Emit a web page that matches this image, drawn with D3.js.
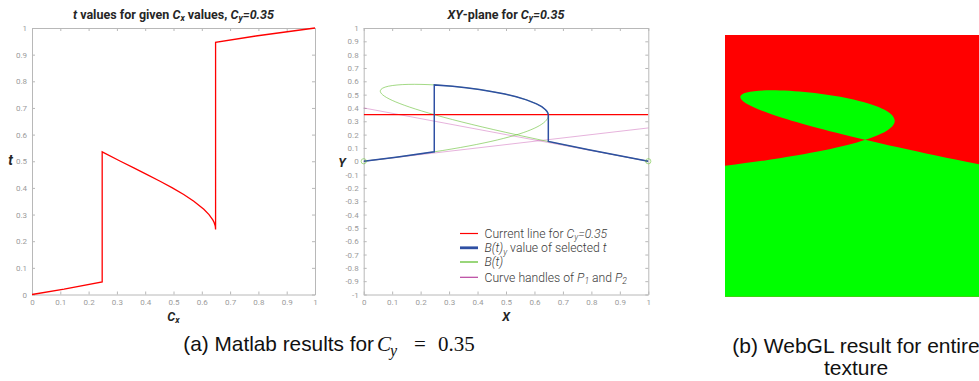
<!DOCTYPE html>
<html><head><meta charset="utf-8">
<script src="https://cdn.jsdelivr.net/npm/d3@7"></script>
<style>body{margin:0;background:#fff;overflow:hidden}svg{display:block}</style>
</head><body><svg id="c" width="979" height="381"></svg>
<script>
// ---------- data ----------
const unitTicks = [0,0.1,0.2,0.3,0.4,0.5,0.6,0.7,0.8,0.9,1];
const unitTickLabels = ["0","0.1","0.2","0.3","0.4","0.5","0.6","0.7","0.8","0.9","1"];
const yTicksXY = [-1,-0.9,-0.8,-0.7,-0.6,-0.5,-0.4,-0.3,-0.2,-0.1,0,0.1,0.2,0.3,0.4,0.5,0.6,0.7,0.8,0.9,1];
const yTickLabelsXY = ["-1","-0.9","-0.8","-0.7","-0.6","-0.5","-0.4","-0.3","-0.2","-0.1","0","0.1","0.2","0.3","0.4","0.5","0.6","0.7","0.8","0.9","1"];

// t values for given Cx (left plot) and the selected B(t)y (right plot, blue)
const cxValues = [0, 0.1135, 0.248, 0.248, 0.3125, 0.3597, 0.4067, 0.4525, 0.496, 0.5361, 0.5718, 0.6072, 0.6255, 0.6389, 0.6435, 0.6467, 0.6478, 0.6487, 0.6487, 0.7909, 1];
const tValues  = [0, 0.02, 0.0474, 0.535, 0.5, 0.475, 0.45, 0.425, 0.4, 0.375, 0.35, 0.32, 0.3, 0.28, 0.27, 0.26, 0.255, 0.2441, 0.946, 0.97, 1];
const byValues = [0, 0.03, 0.0709, 0.5728, 0.5625, 0.5517, 0.5383, 0.5224, 0.504, 0.4834, 0.4607, 0.4308, 0.4095, 0.3871, 0.3755, 0.3636, 0.3576, 0.3443, 0.1491, 0.086, 0];

// Bezier control points P0..P3
const ctrlX = [0, 2, -1.5, 1];
const ctrlY = [0, 0.5, 1, 0];
const cyValue = 0.35;

// ---------- drawing ----------
const svg = d3.select("#c");
const F = "Roboto, 'Noto Sans', sans-serif";
const tickColor = "#9b9b9b";
const frameColor = "#b8b8b8";

function rich(textSel, parts, baseSize) {
  let shift = 0;
  parts.forEach(p => {
    const ts = textSel.append("tspan").text(p.t);
    if (p.i) ts.attr("font-style", "italic");
    if (p.sub) {
      ts.attr("font-size", (baseSize * 0.7) + "px").attr("dy", (baseSize * 0.22 - shift));
      shift = baseSize * 0.22;
    } else if (shift) {
      ts.attr("dy", -shift); shift = 0;
    }
  });
}

function frame(g, x, y, xTicks, xLabels, yTicks, yLabels) {
  const [x0, x1] = x.range(); const [y0, y1] = y.range();
  const mk = (axis, tr) => g.append("g").attr("transform", tr).call(axis)
    .call(s => { s.select(".domain").attr("stroke", frameColor); s.selectAll(".tick line").attr("stroke", frameColor);
      s.selectAll("text").attr("fill", tickColor).attr("font-family", F).attr("font-size", "8px"); });
  mk(d3.axisBottom(x).tickValues(xTicks).tickFormat((d,i)=>xLabels[i]).tickSizeInner(-3).tickSizeOuter(0).tickPadding(5), `translate(0,${y0})`);
  mk(d3.axisTop(x).tickValues(xTicks).tickFormat("").tickSizeInner(-3).tickSizeOuter(0), `translate(0,${y1})`);
  mk(d3.axisLeft(y).tickValues(yTicks).tickFormat((d,i)=>yLabels[i]).tickSizeInner(-3).tickSizeOuter(0).tickPadding(5), `translate(${x0},0)`);
  mk(d3.axisRight(y).tickValues(yTicks).tickFormat("").tickSizeInner(-3).tickSizeOuter(0), `translate(${x1},0)`);
}

// ----- left plot -----
const xL = d3.scaleLinear().domain([0,1]).range([32, 315]);
const yL = d3.scaleLinear().domain([0,1]).range([294.5, 28]);
const gL = svg.append("g");
frame(gL, xL, yL, unitTicks, unitTickLabels, unitTicks, unitTickLabels);
gL.append("path").datum(d3.range(cxValues.length))
  .attr("d", d3.line().x(i => xL(cxValues[i])).y(i => yL(tValues[i])))
  .attr("fill", "none").attr("stroke", "#ff0000").attr("stroke-width", 1.3);
rich(gL.append("text").attr("x", 173.5).attr("y", 18.5).attr("text-anchor", "middle")
  .attr("font-family", F).attr("font-weight", "bold").attr("font-size", "12.5px").attr("fill", "#262626"),
  [{t:"t",i:1},{t:" values for given "},{t:"C",i:1},{t:"x",i:1,sub:1},{t:" values, "},{t:"C",i:1},{t:"y",i:1,sub:1},{t:"=0.35",i:1}], 12.5);
rich(gL.append("text").attr("x", 173.5).attr("y", 320.5).attr("text-anchor", "middle")
  .attr("font-family", F).attr("font-weight", "bold").attr("font-size", "12.5px").attr("fill", "#262626"),
  [{t:"C",i:1},{t:"x",i:1,sub:1}], 12.5);
gL.append("text").attr("x", 10.5).attr("y", 165).attr("text-anchor", "middle")
  .attr("font-family", F).attr("font-weight", "bold").attr("font-style", "italic").attr("font-size", "14px").attr("fill", "#262626").text("t");

// ----- right plot -----
const xR = d3.scaleLinear().domain([0,1]).range([363.7, 648.3]);
const yR = d3.scaleLinear().domain([-1,1]).range([294.5, 28]);
const gR = svg.append("g");
svg.append("defs").append("clipPath").attr("id", "clipR").append("rect")
  .attr("x", xR(0)).attr("y", yR(1)).attr("width", xR(1)-xR(0)).attr("height", yR(-1)-yR(1));
frame(gR, xR, yR, unitTicks, unitTickLabels, yTicksXY, yTickLabelsXY);
const plotR = gR.append("g").attr("clip-path", "url(#clipR)");
// curve handles
[[0,1],[3,2]].forEach(([a,b]) => {
  plotR.append("line").attr("x1", xR(ctrlX[a])).attr("y1", yR(ctrlY[a])).attr("x2", xR(ctrlX[b])).attr("y2", yR(ctrlY[b]))
    .attr("stroke", "#c040a8").attr("stroke-opacity", 0.4).attr("stroke-width", 1);
});
// B(t)
const bp = d3.path();
bp.moveTo(xR(ctrlX[0]), yR(ctrlY[0]));
bp.bezierCurveTo(xR(ctrlX[1]), yR(ctrlY[1]), xR(ctrlX[2]), yR(ctrlY[2]), xR(ctrlX[3]), yR(ctrlY[3]));
plotR.append("path").attr("d", bp.toString()).attr("fill", "none").attr("stroke", "#66c033").attr("stroke-opacity", 0.6).attr("stroke-width", 1);
// current line
plotR.append("line").attr("x1", xR(0)).attr("x2", xR(1)).attr("y1", yR(cyValue)).attr("y2", yR(cyValue))
  .attr("stroke", "#ff0000").attr("stroke-width", 1.3);
// blue selected
plotR.append("path").datum(d3.range(cxValues.length))
  .attr("d", d3.line().x(i => xR(cxValues[i])).y(i => yR(byValues[i])))
  .attr("fill", "none").attr("stroke", "#2e4fa3").attr("stroke-width", 1.5);
// endpoint markers
[0,3].forEach(k => gR.append("circle").attr("cx", xR(ctrlX[k])).attr("cy", yR(ctrlY[k])).attr("r", 2.6)
  .attr("fill", "none").attr("stroke", "#66c033").attr("stroke-opacity", 0.7).attr("stroke-width", 0.8));
// titles
rich(gR.append("text").attr("x", 506).attr("y", 18.5).attr("text-anchor", "middle")
  .attr("font-family", F).attr("font-weight", "bold").attr("font-size", "12.5px").attr("fill", "#262626"),
  [{t:"XY",i:1},{t:"-plane for "},{t:"C",i:1},{t:"y",i:1,sub:1},{t:"=0.35",i:1}], 12.5);
gR.append("text").attr("x", 506).attr("y", 320.5).attr("text-anchor", "middle")
  .attr("font-family", F).attr("font-weight", "bold").attr("font-style", "italic").attr("font-size", "12.5px").attr("fill", "#262626").text("X");
gR.append("text").attr("x", 342).attr("y", 166.5).attr("text-anchor", "middle")
  .attr("font-family", F).attr("font-weight", "bold").attr("font-style", "italic").attr("font-size", "12.5px").attr("fill", "#262626").text("Y");

// legend
const legendColors = ["#ff0000", "#2e4fa3", "#55bb22", "#b8449f"];
const legendWidths = [1.2, 2.8, 1.2, 1.2];
const legendParts = [
  [{t:"Current line for "},{t:"C",i:1},{t:"y",i:1,sub:1},{t:"=0.35",i:1}],
  [{t:"B(t)",i:1},{t:"y",i:1,sub:1},{t:" value of selected "},{t:"t",i:1}],
  [{t:"B(t)",i:1}],
  [{t:"Curve handles of "},{t:"P",i:1},{t:"1",i:1,sub:1},{t:" and "},{t:"P",i:1},{t:"2",i:1,sub:1}]
];
const lgY = [233.5, 247.8, 262, 277.3];
const gLeg = gR.append("g");
legendParts.forEach((parts, k) => {
  gLeg.append("path").attr("d", `M460,${lgY[k]}H478`).attr("fill", "none")
    .style("stroke", legendColors[k]).style("stroke-width", legendWidths[k]);
  rich(gLeg.append("text").attr("x", 484.5).attr("y", lgY[k] + 4.3).attr("font-family", F).attr("font-weight", 300)
    .attr("font-size", "12.2px").attr("fill", "#3a3a3a"), parts, 12.2);
});

// ----- WebGL panel -----
const xW = d3.scaleLinear().domain([0,1]).range([725, 986.7]);
const yW = d3.scaleLinear().domain([-1,1]).range([296.7, 35]);
const gW = svg.append("g");
gW.append("rect").attr("x", xW(0)).attr("y", yW(1)).attr("width", xW(1)-xW(0)).attr("height", yW(-1)-yW(1)).attr("fill", "#ff0000");
const gp = d3.path();
gp.moveTo(xW(ctrlX[0]), yW(ctrlY[0]));
gp.bezierCurveTo(xW(ctrlX[1]), yW(ctrlY[1]), xW(ctrlX[2]), yW(ctrlY[2]), xW(ctrlX[3]), yW(ctrlY[3]));
gp.lineTo(xW(1), yW(-1)); gp.lineTo(xW(0), yW(-1)); gp.closePath();
gW.append("path").attr("d", gp.toString()).attr("fill", "#00ff00").attr("fill-rule", "evenodd");

// ----- captions -----
const CF = "'Liberation Sans', Arial, sans-serif";
const MF = "'Liberation Serif', 'DejaVu Serif', serif";
const capA = svg.append("text").attr("x", 183.3).attr("y", 351).attr("font-family", CF).attr("font-size", "20.8px").attr("fill", "#111");
capA.append("tspan").text("(a) Matlab results for");
capA.append("tspan").attr("x", 377).attr("font-family", MF).attr("font-size", "21px").attr("font-style", "italic").text("C");
capA.append("tspan").attr("x", 390).attr("dy", 4.5).attr("font-family", MF).attr("font-size", "16px").attr("font-style", "italic").text("y");
capA.append("tspan").attr("x", 414).attr("dy", -4.5).attr("font-family", MF).attr("font-size", "21px").text("=");
capA.append("tspan").attr("x", 438).attr("font-family", MF).attr("font-size", "21px").text("0.35");
const capB = svg.append("text").attr("x", 856).attr("y", 352.7).attr("text-anchor", "middle").attr("font-family", CF).attr("font-size", "21px").attr("fill", "#111");
capB.append("tspan").attr("x", 856).text("(b) WebGL result for entire");
capB.append("tspan").attr("x", 856).attr("dy", 22.3).text("texture");
</script></body></html>
